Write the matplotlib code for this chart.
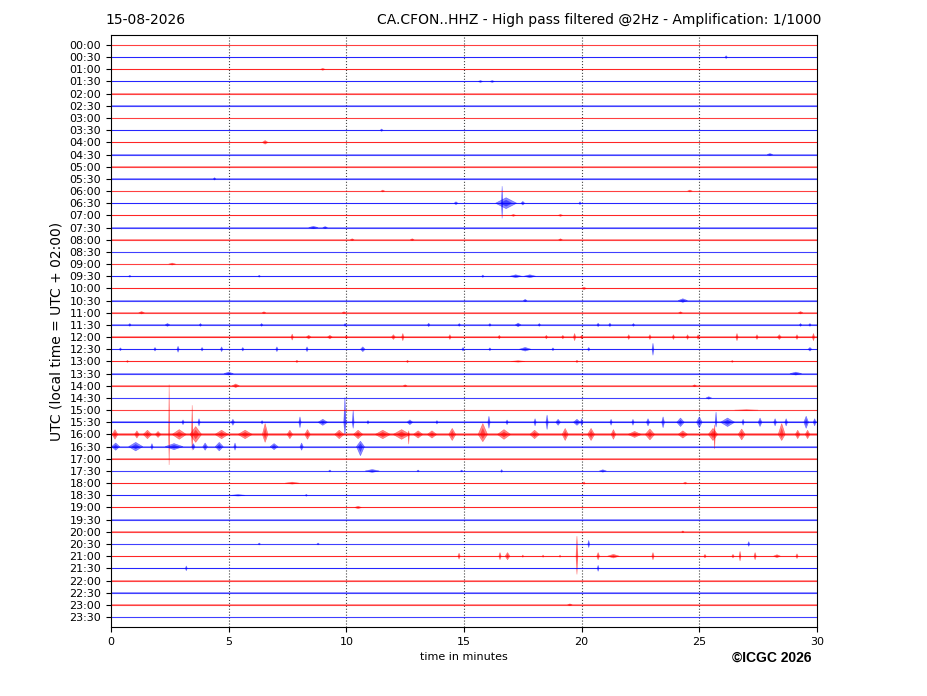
import numpy as np
import matplotlib
matplotlib.use("Agg")
import matplotlib.pyplot as plt

# helicorder: 48 half-hour traces, 30 minutes each
row_labels = ["%02d:%02d" % (h, m) for h in range(24) for m in (0, 30)]
trace_minutes = 30
x_ticks = [0, 5, 10, 15, 20, 25, 30]

# background noise half-width of each trace, in row units
noise_level = [0.03] * 48
noise_level[23] = 0.04
noise_level[24] = 0.05
noise_level[25] = 0.05
noise_level[31] = 0.09
noise_level[32] = 0.13
noise_level[33] = 0.07
noise_level[42] = 0.05

# large events: (minute, half duration, up, down) in row units
ev_0630 = [(14.66, 0.08, 0.12, 0.12), (16.79, 0.45, 0.45, 0.45), (16.62, 0.03, 1.4, 1.25),
           (17.5, 0.08, 0.15, 0.15), (19.93, 0.05, 0.12, 0.12)]

ev_1530 = [(3.06, 0.05, 0.2, 0.2), (3.74, 0.05, 0.3, 0.3), (5.18, 0.07, 0.25, 0.25),
           (6.42, 0.04, 0.15, 0.15), (8.03, 0.05, 0.45, 0.45), (9.0, 0.2, 0.25, 0.25),
           (9.94, 0.05, 2.05, 1.0), (10.29, 0.04, 1.0, 0.5), (10.92, 0.04, 0.15, 0.15),
           (12.7, 0.12, 0.2, 0.2), (13.85, 0.04, 0.15, 0.15), (16.06, 0.05, 0.5, 0.5),
           (16.83, 0.05, 0.2, 0.2), (18.02, 0.05, 0.3, 0.3), (18.53, 0.05, 0.6, 0.6),
           (19.0, 0.1, 0.25, 0.25), (19.8, 0.15, 0.25, 0.25), (20.0, 0.05, 0.3, 0.3),
           (21.25, 0.05, 0.25, 0.25), (22.18, 0.05, 0.25, 0.25), (22.82, 0.07, 0.3, 0.3),
           (23.46, 0.06, 0.45, 0.45), (24.2, 0.16, 0.35, 0.35), (25.0, 0.12, 0.45, 0.45),
           (25.71, 0.04, 0.85, 0.4), (26.2, 0.3, 0.35, 0.35), (26.86, 0.05, 0.25, 0.25),
           (27.58, 0.08, 0.35, 0.35), (28.22, 0.06, 0.3, 0.3), (28.69, 0.06, 0.3, 0.3),
           (29.54, 0.1, 0.5, 0.5), (29.9, 0.06, 0.3, 0.3)]

ev_1600 = [(0.17, 0.12, 0.4, 0.4), (1.1, 0.1, 0.3, 0.3), (1.55, 0.18, 0.35, 0.35),
           (2.0, 0.12, 0.25, 0.25), (2.47, 0.02, 4.1, 2.5), (2.9, 0.3, 0.4, 0.4),
           (3.6, 0.25, 0.65, 0.65), (3.45, 0.03, 2.4, 1.3), (4.7, 0.28, 0.35, 0.35),
           (5.7, 0.3, 0.35, 0.35), (6.55, 0.12, 0.9, 0.65), (7.6, 0.12, 0.35, 0.35),
           (8.35, 0.12, 0.4, 0.4), (9.7, 0.2, 0.35, 0.35), (10.5, 0.2, 0.35, 0.35),
           (11.55, 0.32, 0.35, 0.35), (12.35, 0.36, 0.4, 0.4), (12.65, 0.03, 0.3, 0.8),
           (13.05, 0.2, 0.3, 0.3), (13.64, 0.2, 0.3, 0.3), (14.5, 0.15, 0.5, 0.5),
           (15.8, 0.2, 0.9, 0.6), (16.7, 0.28, 0.4, 0.4), (18.0, 0.2, 0.35, 0.35),
           (19.3, 0.13, 0.5, 0.5), (20.4, 0.15, 0.5, 0.5), (21.35, 0.1, 0.4, 0.4),
           (22.25, 0.28, 0.25, 0.25), (22.9, 0.2, 0.45, 0.45), (24.3, 0.2, 0.3, 0.3),
           (25.58, 0.2, 0.5, 0.5), (25.65, 0.03, 0.8, 1.2), (26.8, 0.15, 0.45, 0.45),
           (28.5, 0.15, 0.9, 0.5), (29.18, 0.1, 0.35, 0.35), (29.6, 0.1, 0.35, 0.35)]

ev_1630 = [(0.2, 0.17, 0.3, 0.3), (1.05, 0.3, 0.35, 0.35), (1.74, 0.05, 0.25, 0.25),
           (2.68, 0.38, 0.25, 0.25), (3.5, 0.07, 0.25, 0.25), (4.0, 0.1, 0.3, 0.3),
           (4.6, 0.17, 0.35, 0.35), (5.27, 0.05, 0.3, 0.3), (6.93, 0.17, 0.25, 0.25),
           (8.1, 0.07, 0.3, 0.3), (10.6, 0.17, 0.45, 0.75)]

ev_2100 = [(14.79, 0.05, 0.25, 0.25), (16.53, 0.05, 0.3, 0.3), (16.85, 0.1, 0.3, 0.3),
           (17.5, 0.03, 0.1, 0.1), (18.36, 0.03, 0.1, 0.1), (19.08, 0.03, 0.1, 0.1),
           (19.8, 0.04, 1.65, 1.5), (20.7, 0.06, 0.3, 0.3), (21.35, 0.25, 0.15, 0.15),
           (23.03, 0.05, 0.3, 0.3), (25.24, 0.05, 0.15, 0.15), (26.43, 0.05, 0.15, 0.15),
           (26.73, 0.04, 0.4, 0.4), (27.37, 0.05, 0.3, 0.3), (28.3, 0.15, 0.12, 0.12),
           (29.15, 0.05, 0.2, 0.2)]

big_events = {"06:30": ev_0630, "15:30": ev_1530, "16:00": ev_1600,
              "16:30": ev_1630, "21:00": ev_2100}

# small blips: (row, minute, half duration, amplitude)
minor_events = [
    ("00:30", 26.14, 0.05, 0.12), ("01:00", 9.0, 0.1, 0.08), ("01:30", 15.7, 0.1, 0.08),
    ("01:30", 16.2, 0.1, 0.08), ("03:30", 11.5, 0.06, 0.1), ("04:00", 6.55, 0.12, 0.15),
    ("04:30", 28.0, 0.12, 0.08), ("05:30", 4.4, 0.05, 0.1), ("06:00", 11.55, 0.08, 0.08),
    ("06:00", 24.6, 0.1, 0.08), ("07:00", 17.1, 0.1, 0.08), ("07:00", 19.1, 0.1, 0.08),
    ("07:30", 8.6, 0.2, 0.1), ("07:30", 9.1, 0.1, 0.08), ("08:00", 10.25, 0.08, 0.08),
    ("08:00", 12.8, 0.08, 0.08), ("08:00", 19.1, 0.08, 0.08), ("09:00", 2.6, 0.15, 0.08),
    ("09:30", 0.8, 0.05, 0.08), ("09:30", 6.3, 0.05, 0.08), ("09:30", 15.8, 0.05, 0.1),
    ("09:30", 17.2, 0.25, 0.12), ("09:30", 17.8, 0.25, 0.12), ("10:00", 20.1, 0.1, 0.1),
    ("10:30", 17.6, 0.08, 0.1), ("10:30", 24.3, 0.2, 0.15), ("11:00", 1.3, 0.12, 0.1),
    ("11:00", 6.5, 0.08, 0.08), ("11:00", 9.9, 0.08, 0.08), ("11:00", 24.2, 0.08, 0.08),
    ("11:00", 29.3, 0.1, 0.1),
    ("11:30", 0.8, 0.05, 0.12), ("11:30", 2.4, 0.1, 0.12), ("11:30", 3.8, 0.05, 0.12),
    ("11:30", 6.4, 0.05, 0.12), ("11:30", 9.95, 0.05, 0.12), ("11:30", 13.5, 0.05, 0.15),
    ("11:30", 14.8, 0.05, 0.12), ("11:30", 16.1, 0.05, 0.12), ("11:30", 17.3, 0.12, 0.15),
    ("11:30", 18.2, 0.05, 0.12), ("11:30", 20.7, 0.05, 0.15), ("11:30", 21.2, 0.05, 0.15),
    ("11:30", 22.2, 0.05, 0.12), ("11:30", 29.3, 0.05, 0.12), ("11:30", 29.7, 0.05, 0.12),
    ("12:00", 7.7, 0.05, 0.25), ("12:00", 8.4, 0.1, 0.15), ("12:00", 9.3, 0.1, 0.15),
    ("12:00", 10.0, 0.05, 0.12), ("12:00", 12.0, 0.08, 0.2), ("12:00", 12.4, 0.05, 0.3),
    ("12:00", 14.4, 0.05, 0.2), ("12:00", 16.5, 0.05, 0.15), ("12:00", 18.5, 0.05, 0.15),
    ("12:00", 19.2, 0.05, 0.15), ("12:00", 19.7, 0.05, 0.3), ("12:00", 20.0, 0.05, 0.15),
    ("12:00", 22.0, 0.05, 0.2), ("12:00", 22.9, 0.05, 0.2), ("12:00", 23.9, 0.05, 0.2),
    ("12:00", 24.5, 0.05, 0.2), ("12:00", 24.95, 0.05, 0.2), ("12:00", 26.6, 0.05, 0.3),
    ("12:00", 27.45, 0.05, 0.2), ("12:00", 28.4, 0.08, 0.2), ("12:00", 29.15, 0.05, 0.2),
    ("12:00", 29.85, 0.05, 0.3),
    ("12:30", 0.4, 0.05, 0.12), ("12:30", 1.87, 0.05, 0.15), ("12:30", 2.85, 0.05, 0.25),
    ("12:30", 3.87, 0.05, 0.15), ("12:30", 4.7, 0.05, 0.2), ("12:30", 5.6, 0.05, 0.15),
    ("12:30", 7.05, 0.05, 0.2), ("12:30", 8.33, 0.05, 0.2), ("12:30", 10.7, 0.1, 0.2),
    ("12:30", 14.96, 0.05, 0.15), ("12:30", 16.1, 0.05, 0.12), ("12:30", 17.6, 0.25, 0.15),
    ("12:30", 18.78, 0.05, 0.12), ("12:30", 20.3, 0.05, 0.15), ("12:30", 23.03, 0.04, 0.5),
    ("12:30", 29.7, 0.08, 0.15),
    ("13:00", 0.7, 0.05, 0.08), ("13:00", 7.9, 0.05, 0.1), ("13:00", 12.6, 0.05, 0.1),
    ("13:00", 17.3, 0.3, 0.06), ("13:00", 19.8, 0.05, 0.1), ("13:00", 26.4, 0.05, 0.08),
    ("13:30", 5.0, 0.2, 0.12), ("13:30", 29.1, 0.25, 0.12), ("14:00", 5.3, 0.15, 0.15),
    ("14:00", 12.5, 0.08, 0.08), ("14:00", 24.8, 0.08, 0.08), ("14:30", 25.4, 0.12, 0.1),
    ("15:00", 27.0, 0.5, 0.03),
    ("17:30", 9.3, 0.05, 0.08), ("17:30", 11.1, 0.3, 0.12), ("17:30", 13.05, 0.05, 0.08),
    ("17:30", 14.9, 0.05, 0.08), ("17:30", 16.6, 0.04, 0.12), ("17:30", 20.9, 0.15, 0.1),
    ("18:00", 7.7, 0.3, 0.08), ("18:00", 20.1, 0.05, 0.1), ("18:00", 24.4, 0.08, 0.08),
    ("18:30", 5.4, 0.3, 0.06), ("18:30", 8.3, 0.05, 0.08), ("19:00", 10.5, 0.15, 0.1),
    ("20:00", 24.3, 0.05, 0.08), ("20:30", 6.3, 0.05, 0.08), ("20:30", 8.8, 0.05, 0.08),
    ("20:30", 20.3, 0.04, 0.3), ("20:30", 27.1, 0.04, 0.2), ("21:30", 3.2, 0.04, 0.2),
    ("21:30", 20.7, 0.04, 0.25), ("23:00", 19.5, 0.1, 0.08),
]

row_colors = ["#ff0000", "#0000ff"]

fig = plt.figure(figsize=(9.27, 6.96), dpi=100)
ax = fig.add_axes([111 / 927, 1 - 627 / 696, 706 / 927, 592 / 696])

xs = np.array([0, trace_minutes])
for i, lab in enumerate(row_labels):
    c = row_colors[i % 2]
    ax.fill_between(xs, i - noise_level[i], i + noise_level[i], color=c, alpha=0.4, lw=0)
    ax.plot(xs, [i, i], color=c, lw=0.8, alpha=0.75)


def draw_events(row, events, color):
    for t, half, up, down in events:
        # outer envelope (faint) and inner core (stronger)
        ax.fill([t - half, t, t + half, t], [row, row - up, row, row + down],
                facecolor=color, edgecolor=color, lw=0.4, alpha=0.45)
        ax.fill([t - half * 0.6, t, t + half * 0.6, t],
                [row, row - up * 0.6, row, row + down * 0.6],
                facecolor=color, edgecolor="none", alpha=0.5)


for lab, evs in big_events.items():
    i = row_labels.index(lab)
    draw_events(i, evs, row_colors[i % 2])

for lab, t, half, amp in minor_events:
    i = row_labels.index(lab)
    draw_events(i, [(t, half, amp, amp)], row_colors[i % 2])

ax.set_xlim(0, trace_minutes)
ax.set_ylim(len(row_labels) - 0.18, -0.82)
ax.set_yticks(range(len(row_labels)))
ax.set_yticklabels(row_labels, fontsize=8)
ax.set_xticks(x_ticks)
ax.tick_params(axis="x", labelsize=8)
for v in x_ticks[1:-1]:
    ax.axvline(v, color="#444444", ls=":", lw=0.8, zorder=0)

fig.text(105 / 927, 1 - 20 / 696, "15-08-2026", fontsize=10, ha="left", va="center")
fig.text(821 / 927, 1 - 20 / 696,
         "CA.CFON..HHZ - High pass filtered @2Hz - Amplification: 1/1000",
         fontsize=10, ha="right", va="center")
fig.text(57 / 927, 1 - 331 / 696, "UTC (local time = UTC + 02:00)", fontsize=10,
         rotation=90, ha="center", va="center")
fig.text(464 / 927, 1 - 657 / 696, "time in minutes", fontsize=8, ha="center", va="center")
fig.text(811 / 927, 1 - 658 / 696, "\u00a9ICGC 2026", fontsize=10, fontweight="bold",
         family=["Liberation Sans", "DejaVu Sans"], ha="right", va="center")

fig.savefig("out.png", dpi=100)
